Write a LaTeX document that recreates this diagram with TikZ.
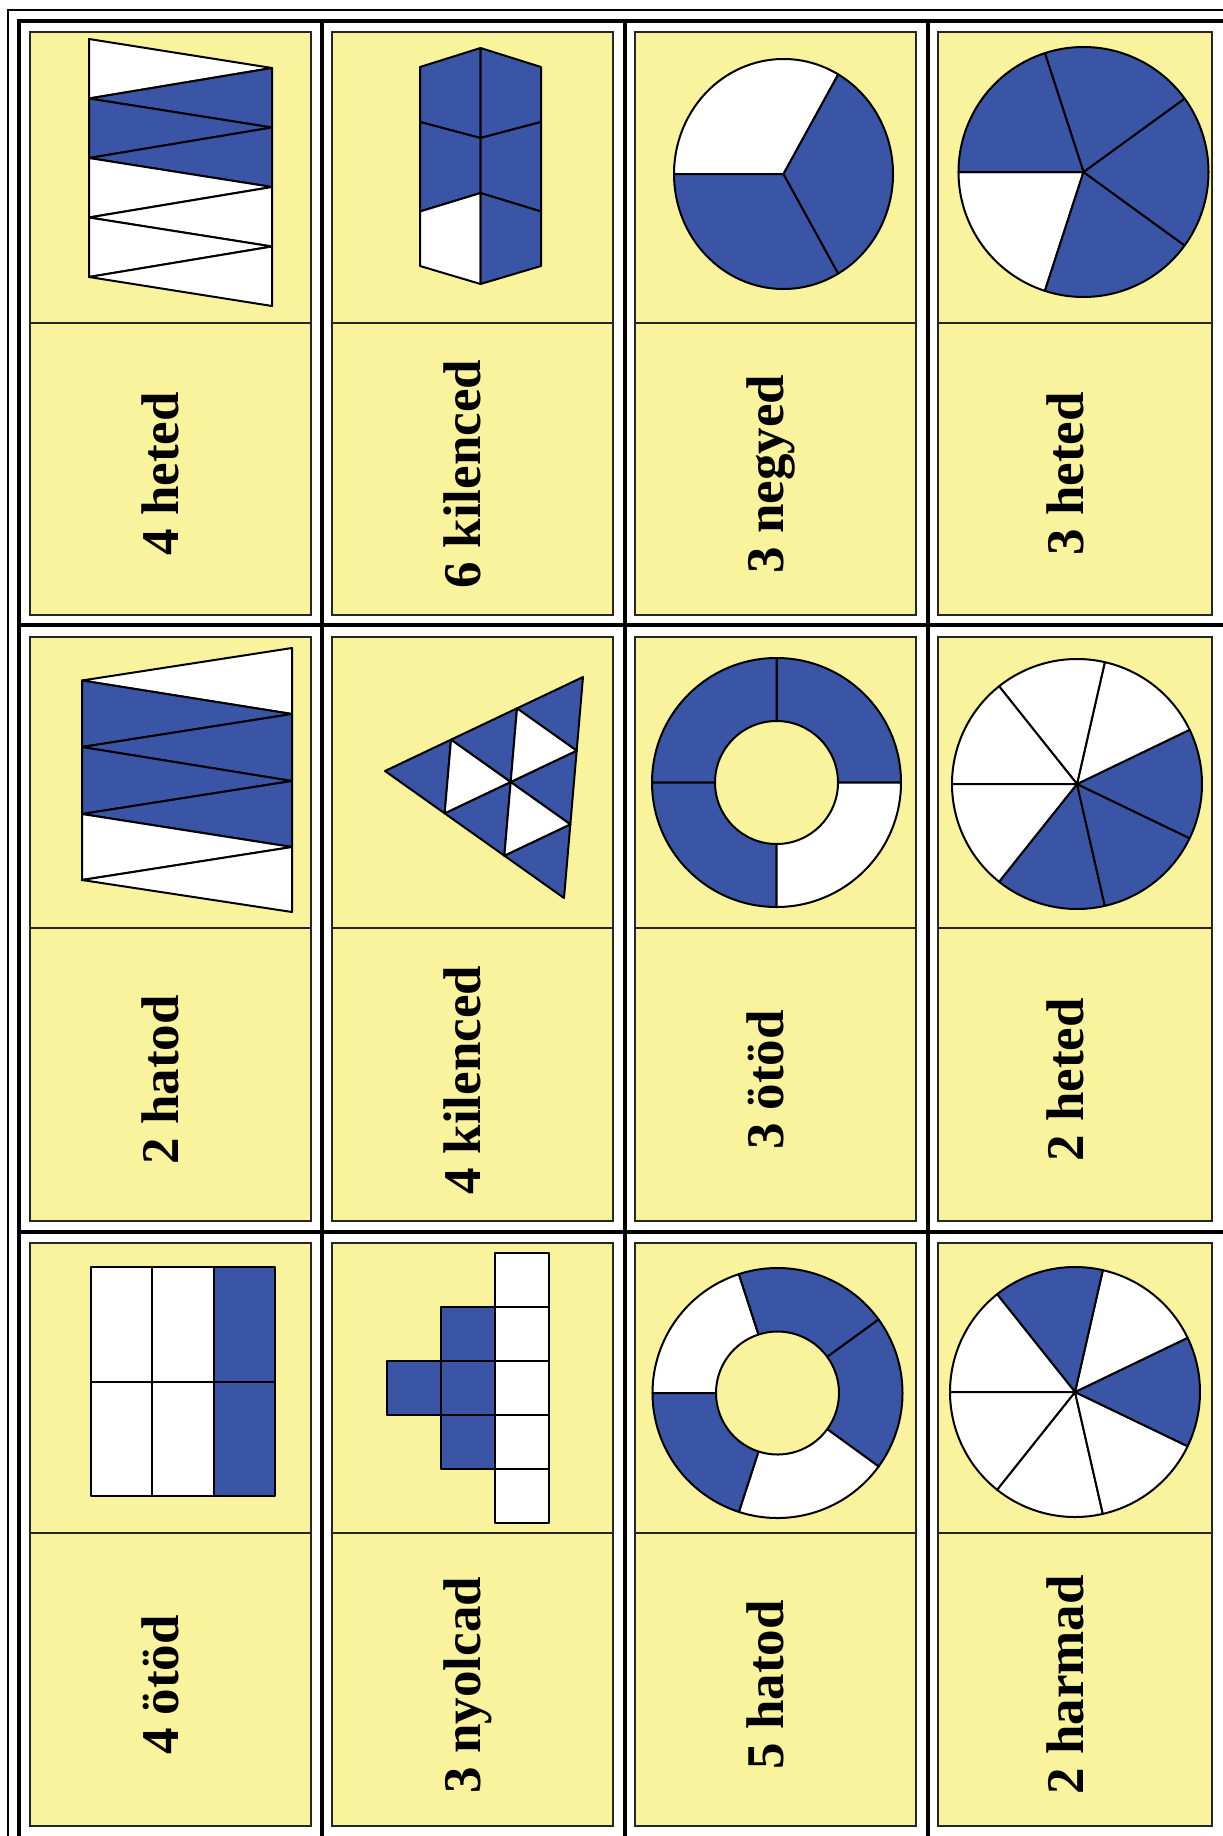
\documentclass[tikz,border=0pt]{standalone}
\usepackage{fontspec}
\setmainfont{Liberation Serif}
\usetikzlibrary{calc}
\definecolor{cardyellow}{RGB}{248,243,156}
\definecolor{fracblue}{RGB}{58,85,165}
\tikzset{
  cardbox/.style={draw=black!85, line width=1.4pt, fill=cardyellow},
  divline/.style={draw=black!85, line width=1.2pt},
  shp/.style={draw=black, line width=2pt, line join=round},
  bl/.style={shp, fill=fracblue},
  wh/.style={shp, fill=white},
  gridthick/.style={line width=4pt, draw=black},
  gridthin/.style={line width=1.3pt, draw=black},
  lbl/.style={rotate=90, anchor=base, inner sep=0pt, font=\bfseries\fontsize{53}{60}\selectfont},
}
\newcommand{\cardat}[5]{%
  \filldraw[cardbox] (#1,-#3) rectangle (#2,-#4);
  \draw[divline] (#1,-#5) -- (#2,-#5);}
\newcommand{\piesect}[6]{\filldraw[#1] (#2,-#3) -- ++(#5:#4) arc[start angle=#5,end angle=#6,radius=#4] -- cycle;}
\newcommand{\ringsect}[7]{\filldraw[#1] ([shift={(#6:#4)}]#2,-#3) arc[start angle=#6,end angle=#7,radius=#4] -- ([shift={(#7:#5)}]#2,-#3) arc[start angle=#7,end angle=#6,radius=#5] -- cycle;}
\newcommand{\tri}[7]{\filldraw[#1] (#2,-#3) -- (#4,-#5) -- (#6,-#7) -- cycle;}
\begin{document}
\begin{tikzpicture}[x=1pt,y=1pt]
\useasboundingbox (0,0) rectangle (1223,-1836);
\fill[white] (0,0) rectangle (1223,-1836);
% outer thin frame
\draw[gridthin] (8,-1836) -- (8,-10) -- (1223,-10);
% thick grid
\draw[gridthick] (19,-1836) -- (19,-21) -- (1223,-21);
\foreach \gx in {322,625,928} \draw[gridthick] (\gx,-21) -- (\gx,-1836);
\foreach \gy in {625,1232} \draw[gridthick] (19,-\gy) -- (1223,-\gy);
% cards
\foreach \xa/\xb in {30/311,332/613,635/916,938/1212}{
  \cardat{\xa}{\xb}{32}{615}{323}
  \cardat{\xa}{\xb}{637}{1221}{928}
  \cardat{\xa}{\xb}{1243}{1826}{1533}
}
% ---------- row 1 ----------
% card 1: zigzag (3 of 8 blue)
\tri{wh}{89}{39}{272}{68}{89}{98.5}
\tri{bl}{272}{68}{89}{98.5}{272}{127.5}
\tri{bl}{89}{98.5}{272}{127.5}{89}{158}
\tri{bl}{272}{127.5}{89}{158}{272}{187}
\tri{wh}{89}{158}{272}{187}{89}{217.5}
\tri{wh}{272}{187}{89}{217.5}{272}{246.5}
\tri{wh}{89}{217.5}{272}{246.5}{89}{277}
\tri{wh}{272}{246.5}{89}{277}{272}{306}
% card 2: prism of 6 cells
\filldraw[bl] (420,-67) -- (480.5,-48) -- (480.5,-138) -- (420,-122) -- cycle;
\filldraw[bl] (420,-122) -- (480.5,-138) -- (480.5,-193) -- (420,-211.5) -- cycle;
\filldraw[wh] (420,-211.5) -- (480.5,-193) -- (480.5,-284) -- (420,-266) -- cycle;
\filldraw[bl] (480.5,-48) -- (541,-67) -- (541,-122) -- (480.5,-138) -- cycle;
\filldraw[bl] (480.5,-138) -- (541,-122) -- (541,-211.5) -- (480.5,-193) -- cycle;
\filldraw[bl] (480.5,-193) -- (541,-211.5) -- (541,-266) -- (480.5,-284) -- cycle;
% card 3: ellipse in thirds
\filldraw[wh] (783.5,-174) -- ++(60:109.5 and 115) arc[start angle=60,end angle=180,x radius=109.5,y radius=115] -- cycle;
\filldraw[bl] (783.5,-174) -- ++(180:109.5 and 115) arc[start angle=180,end angle=300,x radius=109.5,y radius=115] -- cycle;
\filldraw[bl] (783.5,-174) -- ++(-60:109.5 and 115) arc[start angle=-60,end angle=60,x radius=109.5,y radius=115] -- cycle;
% card 4: circle in fifths
\piesect{wh}{1083.5}{172}{125}{180}{252}
\piesect{bl}{1083.5}{172}{125}{252}{324}
\piesect{bl}{1083.5}{172}{125}{-36}{36}
\piesect{bl}{1083.5}{172}{125}{36}{108}
\piesect{bl}{1083.5}{172}{125}{108}{180}
% ---------- row 2 ----------
% card 1: zigzag (4 of 7 blue)
\tri{wh}{292}{648}{82}{680.5}{292}{714}
\tri{bl}{82}{680.5}{292}{714}{82}{747}
\tri{bl}{292}{714}{82}{747}{292}{781}
\tri{bl}{82}{747}{292}{781}{82}{814}
\tri{bl}{292}{781}{82}{814}{292}{847}
\tri{wh}{82}{814}{292}{847}{82}{880}
\tri{wh}{292}{847}{82}{880}{292}{912}
% card 2: triangle in ninths
\coordinate (A) at (385,-771);
\coordinate (B) at (583,-677);
\coordinate (C) at (564,-898);
\coordinate (AB1) at ($(A)!1/3!(B)$);
\coordinate (AB2) at ($(A)!2/3!(B)$);
\coordinate (AC1) at ($(A)!1/3!(C)$);
\coordinate (AC2) at ($(A)!2/3!(C)$);
\coordinate (BC1) at ($(B)!1/3!(C)$);
\coordinate (BC2) at ($(B)!2/3!(C)$);
\coordinate (G) at (510.67,-782);
\filldraw[bl] (A) -- (AB1) -- (AC1) -- cycle;
\filldraw[bl] (AB1) -- (AB2) -- (G) -- cycle;
\filldraw[bl] (AC1) -- (G) -- (AC2) -- cycle;
\filldraw[bl] (AB2) -- (B) -- (BC1) -- cycle;
\filldraw[bl] (G) -- (BC1) -- (BC2) -- cycle;
\filldraw[bl] (AC2) -- (BC2) -- (C) -- cycle;
\filldraw[wh] (AB1) -- (G) -- (AC1) -- cycle;
\filldraw[wh] (AB2) -- (BC1) -- (G) -- cycle;
\filldraw[wh] (AC2) -- (G) -- (BC2) -- cycle;
% card 3: ring in quarters
\ringsect{bl}{776.5}{782.5}{124.5}{61.5}{0}{90}
\ringsect{bl}{776.5}{782.5}{124.5}{61.5}{90}{180}
\ringsect{bl}{776.5}{782.5}{124.5}{61.5}{180}{270}
\ringsect{wh}{776.5}{782.5}{124.5}{61.5}{270}{360}
% card 4: circle in sevenths
\piesect{bl}{1077}{784}{125}{-128.57}{-77.14}
\piesect{bl}{1077}{784}{125}{-77.14}{-25.71}
\piesect{bl}{1077}{784}{125}{-25.71}{25.71}
\piesect{wh}{1077}{784}{125}{25.71}{77.14}
\piesect{wh}{1077}{784}{125}{77.14}{128.57}
\piesect{wh}{1077}{784}{125}{128.57}{180}
\piesect{wh}{1077}{784}{125}{180}{231.43}
% ---------- row 3 ----------
% card 1: rectangle 3x2
\filldraw[wh] (91,-1267) rectangle (152.3,-1381.5);
\filldraw[wh] (152.3,-1267) rectangle (213.7,-1381.5);
\filldraw[bl] (213.7,-1267) rectangle (275,-1381.5);
\filldraw[wh] (91,-1381.5) rectangle (152.3,-1496);
\filldraw[wh] (152.3,-1381.5) rectangle (213.7,-1496);
\filldraw[bl] (213.7,-1381.5) rectangle (275,-1496);
% card 2: squares
\foreach \k in {0,...,4} \filldraw[wh] (495,-1253-54*\k) rectangle (549,-1307-54*\k);
\foreach \k in {1,2,3} \filldraw[bl] (441,-1253-54*\k) rectangle (495,-1307-54*\k);
\filldraw[bl] (387,-1361) rectangle (441,-1415);
% card 3: ring in fifths
\ringsect{wh}{777.5}{1393}{125}{61.5}{108}{180}
\ringsect{bl}{777.5}{1393}{125}{61.5}{36}{108}
\ringsect{bl}{777.5}{1393}{125}{61.5}{-36}{36}
\ringsect{wh}{777.5}{1393}{125}{61.5}{-108}{-36}
\ringsect{bl}{777.5}{1393}{125}{61.5}{180}{252}
% card 4: circle in sevenths
\piesect{wh}{1075}{1392}{125}{-128.57}{-77.14}
\piesect{wh}{1075}{1392}{125}{-77.14}{-25.71}
\piesect{bl}{1075}{1392}{125}{-25.71}{25.71}
\piesect{wh}{1075}{1392}{125}{25.71}{77.14}
\piesect{bl}{1075}{1392}{125}{77.14}{128.57}
\piesect{wh}{1075}{1392}{125}{128.57}{180}
\piesect{wh}{1075}{1392}{125}{180}{231.43}
% ---------- labels ----------
\node[lbl] (t11) at (178,-474) {4 heted};
\node[lbl] (t21) at (480,-474) {6 kilenced};
\node[lbl] (t31) at (783,-474) {3 negyed};
\node[lbl] (t41) at (1083,-474) {3 heted};
\node[lbl] (t12) at (178,-1080) {2 hatod};
\node[lbl] (t22) at (480,-1080) {4 kilenced};
\node[lbl] (t32) at (783,-1080) {3 ötöd};
\node[lbl] (t42) at (1083,-1080) {2 heted};
\node[lbl] (t13) at (178,-1685) {4 ötöd};
\node[lbl] (t23) at (480,-1685) {3 nyolcad};
\node[lbl] (t33) at (783,-1685) {5 hatod};
\node[lbl] (t43) at (1083,-1685) {2 harmad};
\end{tikzpicture}
\end{document}
